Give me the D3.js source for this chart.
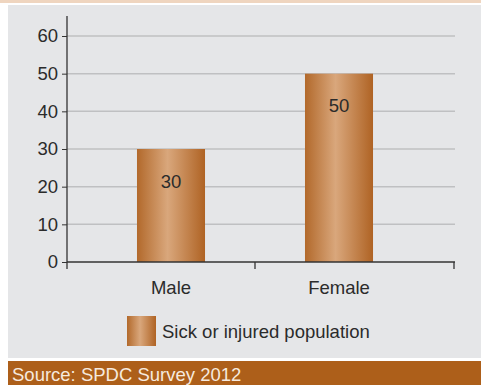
<!DOCTYPE html>
<html>
<head>
<meta charset="utf-8">
<script src="https://cdn.jsdelivr.net/npm/d3@7"></script>
<style>
  body { margin: 0; background: #fff; }
  text { font-family: "Liberation Sans", Arial, sans-serif; }
</style>
</head>
<body>
<script>
// sick or injured population by sex

const categories = ["Male", "Female"];
const values = [30, 50];
const yTicks = [0, 10, 20, 30, 40, 50, 60];
const seriesName = "Sick or injured population";
const sourceText = "Source: SPDC Survey 2012";

const outerWidth = 481, outerHeight = 385;
const plot = {left: 67, right: 454, top: 16, zero: 262};

const svg = d3.select("body").append("svg")
    .attr("width", outerWidth)
    .attr("height", outerHeight);

// bar gradient, dark edges with a light middle
const grad = svg.append("defs").append("linearGradient")
    .attr("id", "barGrad")
    .attr("x1", "0%").attr("x2", "100%").attr("y1", "0%").attr("y2", "0%");
grad.append("stop").attr("offset", "0%").attr("stop-color", "#b2692b");
grad.append("stop").attr("offset", "45%").attr("stop-color", "#d9a77c");
grad.append("stop").attr("offset", "100%").attr("stop-color", "#af6324");

// panels
svg.append("rect").attr("x", 0).attr("y", 0).attr("width", outerWidth).attr("height", 3)
    .style("fill", "#efd5bf");
svg.append("rect").attr("x", 8).attr("y", 5).attr("width", outerWidth - 8).attr("height", 353)
    .style("fill", "#e5e6e8");
svg.append("rect").attr("x", 8).attr("y", 361).attr("width", outerWidth - 8).attr("height", 24)
    .style("fill", "#ad5f1a");

var y = d3.scaleLinear()
    .domain([0, 60])
    .range([plot.zero, 36]);

var x = d3.scaleBand()
    .domain(categories)
    .range([87, 423])
    .paddingInner(0.595)
    .paddingOuter(0.2975);

// gridlines
svg.append("g").selectAll("line")
    .data(yTicks.filter(d => d > 0))
    .enter().append("line")
    .attr("x1", plot.left).attr("x2", plot.right + 1)
    .attr("y1", d => y(d)).attr("y2", d => y(d))
    .style("stroke", "#bfc0c2")
    .style("stroke-width", 1.5);

// y axis
var yAxis = svg.append("g")
    .attr("transform", "translate(" + plot.left + ",0)")
    .call(d3.axisLeft(y).tickValues(yTicks).tickSize(5).tickPadding(4));
yAxis.select(".domain").remove();
yAxis.selectAll(".tick line").style("stroke", "#333");
yAxis.selectAll("text").style("font-size", "18.5px").style("fill", "#2b2b2b");
svg.append("line")
    .attr("x1", plot.left).attr("x2", plot.left)
    .attr("y1", plot.top).attr("y2", plot.zero + 7)
    .style("stroke", "#333").style("stroke-width", 1.3);

// bars
svg.selectAll(".bar")
    .data(values)
    .enter().append("rect")
    .attr("class", "bar")
    .attr("x", (d, i) => x(categories[i]))
    .attr("width", x.bandwidth())
    .attr("y", d => y(d))
    .attr("height", d => y(0) - y(d))
    .style("fill", "url(#barGrad)");

svg.selectAll(".val")
    .data(values)
    .enter().append("text")
    .attr("class", "val")
    .attr("x", (d, i) => x(categories[i]) + x.bandwidth() / 2)
    .attr("y", d => y(d) + 32)
    .attr("text-anchor", "middle")
    .attr("dominant-baseline", "central")
    .style("font-size", "18.5px")
    .style("fill", "#2b2b2b")
    .text(d => d);

// x axis
svg.append("line")
    .attr("x1", plot.left).attr("x2", plot.right + 1)
    .attr("y1", plot.zero).attr("y2", plot.zero)
    .style("stroke", "#333").style("stroke-width", 1.5);
var step = x.step();
svg.selectAll(".xtick")
    .data([plot.right])
    .enter().append("line")
    .attr("x1", d => d).attr("x2", d => d)
    .attr("y1", plot.zero).attr("y2", plot.zero + 7)
    .style("stroke", "#333").style("stroke-width", 1.3);
svg.append("line")
    .attr("x1", x(categories[0]) + x.bandwidth() / 2 + step / 2)
    .attr("x2", x(categories[0]) + x.bandwidth() / 2 + step / 2)
    .attr("y1", plot.zero).attr("y2", plot.zero + 7)
    .style("stroke", "#333").style("stroke-width", 1.3);

svg.selectAll(".cat")
    .data(categories)
    .enter().append("text")
    .attr("class", "cat")
    .attr("x", d => x(d) + x.bandwidth() / 2)
    .attr("y", 287)
    .attr("text-anchor", "middle")
    .attr("dominant-baseline", "central")
    .style("font-size", "18.5px")
    .style("fill", "#2b2b2b")
    .text(d => d);

// legend
svg.append("rect")
    .attr("x", 127).attr("y", 316).attr("width", 29).attr("height", 30)
    .style("fill", "url(#barGrad)");
svg.append("text")
    .attr("x", 162).attr("y", 331)
    .attr("dominant-baseline", "central")
    .style("font-size", "18.5px")
    .style("fill", "#2b2b2b")
    .text(seriesName);

// source
svg.append("text")
    .attr("x", 12).attr("y", 374)
    .attr("dominant-baseline", "central")
    .style("font-size", "18.5px")
    .style("fill", "#f6eadf")
    .text(sourceText);
</script>
</body>
</html>
